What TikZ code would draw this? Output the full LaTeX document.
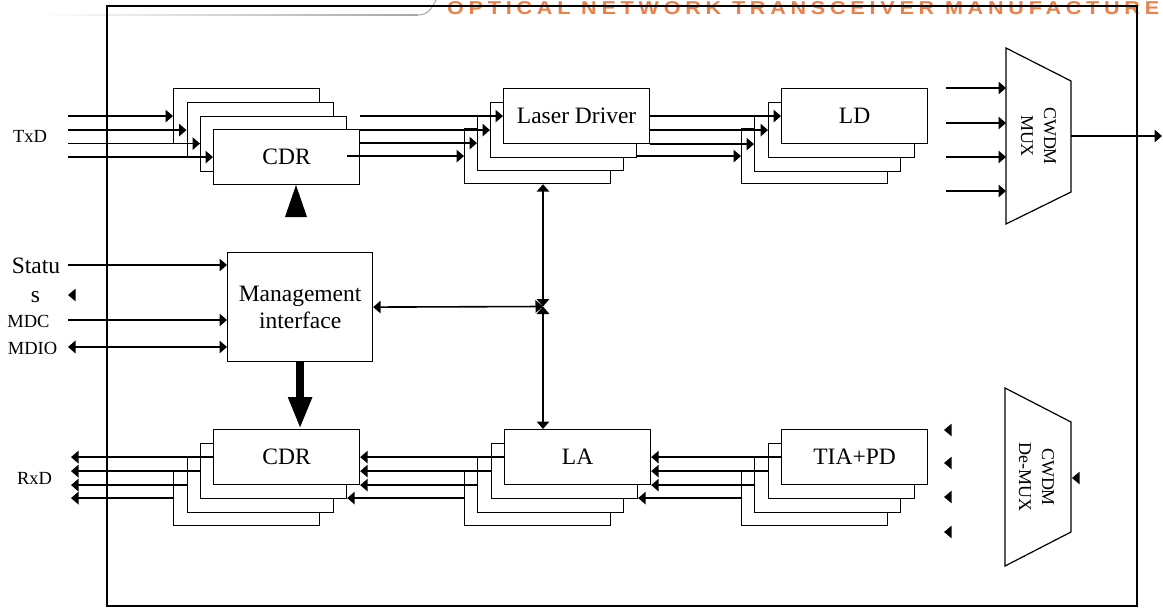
\documentclass[tikz,border=0pt]{standalone}
\usepackage{graphicx}
\usepackage{fontspec}
\setmainfont{Liberation Serif}
\newfontfamily\wmfont[LetterSpace=22]{Liberation Sans}
\usetikzlibrary{arrows.meta}
\definecolor{wmorange}{RGB}{236,128,72}
\tikzset{
  blk/.style={draw, fill=white, line width=1.2pt, minimum width=146pt, minimum height=55pt,
              inner sep=0pt, anchor=north west, font=\fontsize{23.5}{24}\selectfont},
  sig/.style={line width=1.6pt, -{Triangle[length=7.5pt,width=12.5pt]}},
  dsig/.style={line width=1.6pt, {Triangle[length=7.5pt,width=12.5pt]}-{Triangle[length=7.5pt,width=12.5pt]}},
  lbl/.style={anchor=base, inner sep=0pt, font=\fontsize{18.5}{20}\selectfont},
  biglbl/.style={anchor=base, inner sep=0pt, font=\fontsize{23.5}{24}\selectfont},
  muxtxt/.style={rotate=-90, align=center, inner sep=0pt, font=\fontsize{18}{23}\selectfont},
  muxshape/.style={draw, line width=1.2pt}
}
\begin{document}
\begin{tikzpicture}[x=1pt,y=-1pt]
\useasboundingbox (0,0) rectangle (1163,608);
% watermark
\node[anchor=base west, inner sep=0pt, text=wmorange] (wm) at (447,14.5)
  {\resizebox{712pt}{13pt}{\wmfont\bfseries OPTICAL NETWORK TRANSCEIVER MANUFACTURE}};
\shade[left color=white, right color=gray!70] (40,14.4) rectangle (418,15.6);
\draw[gray!70, line width=1pt] (418,15) .. controls (428,15) and (432,8) .. (436,0);
% frame
\draw[line width=1.5pt] (107,6) rectangle (1137,606);

% ---------- TX ----------
\node[blk] (tc1) at (173,88) {};
\node[blk] (tc2) at (186.5,102) {};
\node[blk] (tc3) at (200,115.5) {};
\node[blk] (tc4) at (213,129) {CDR};

\node[blk] (ld4) at (464,128) {};
\node[blk] (ld3) at (477,115) {};
\node[blk] (ld2) at (490,102) {};
\node[blk] (ld1) at (503,88) {Laser Driver};

\node[blk] (lo4) at (741,128) {};
\node[blk] (lo3) at (754,116) {};
\node[blk] (lo2) at (768,102) {};
\node[blk] (lo1) at (781,88) {LD};

\draw[muxshape] (1006,48) -- (1071,81) -- (1071,192) -- (1006,224) -- cycle;
\node[muxtxt] (mux) at (1038.5,136) {CWDM\\MUX};

% ---------- RX ----------
\node[blk] (rc4) at (173,470) {};
\node[blk] (rc3) at (187,457) {};
\node[blk] (rc2) at (200,443) {};
\node[blk] (rc1) at (213,429) {CDR};

\node[blk] (la4) at (464,470) {};
\node[blk] (la3) at (477,457) {};
\node[blk] (la2) at (491,443) {};
\node[blk] (la1) at (504,429) {LA};

\node[blk] (ti4) at (741,470) {};
\node[blk] (ti3) at (754,457) {};
\node[blk] (ti2) at (768,443) {};
\node[blk] (ti1) at (781,429) {TIA+PD};

\draw[muxshape] (1005,388) -- (1071,422) -- (1071,532) -- (1005,566) -- cycle;
\node[muxtxt] (demux) at (1036.5,477) {CWDM\\De-MUX};

% ---------- management ----------
\node[draw, line width=1.2pt, minimum width=145pt, minimum height=109pt, inner sep=0pt,
      anchor=north west, align=center, font=\fontsize{23.5}{27}\selectfont] (mg) at (227,252)
      {Management\\interface};

% labels
\node[lbl] (txd) at (30,142) {TxD};
\node[lbl] (rxd) at (34.5,484) {RxD};
\node[biglbl] (stat1) at (36,273) {Statu};
\node[biglbl] (stat2) at (35.5,302) {s};
\node[lbl] (mdcl) at (28.5,327) {MDC};
\node[lbl] (mdiol) at (32.5,354) {MDIO};

% coordinates
\coordinate (Lx) at (68,0);
\coordinate (Rx) at (71,0);
\coordinate (mx) at (1006,0);
\coordinate (mi1) at (946,88);
\coordinate (mi2) at (946,123);
\coordinate (mi3) at (946,157);
\coordinate (mi4) at (946,191);
\coordinate (mo) at (1071,136);
\coordinate (fout) at (1162,136);
\coordinate (st) at (68,265);
\coordinate (mdc) at (68,320);
\coordinate (mdio) at (68,347);
\coordinate (J) at (543,306.5);

% TxD inputs
\draw[sig] (Lx |- tc1.west) -- (tc1.west);
\draw[sig] (Lx |- tc2.west) -- (tc2.west);
\draw[sig] (Lx |- tc3.west) -- (tc3.west);
\draw[sig] (Lx |- tc4.west) -- (tc4.west);
% CDR -> Laser driver
\draw[sig] (tc4.east |- ld1.west) -- (ld1.west);
\draw[sig] (tc4.east |- ld2.west) -- (ld2.west);
\draw[sig] (tc4.east |- ld3.west) -- (ld3.west);
\draw[sig] (tc3.east |- ld4.west) -- (ld4.west);
% Laser driver -> LD
\draw[sig] (ld1.east |- lo1.west) -- (lo1.west);
\draw[sig] (ld1.east |- lo2.west) -- (lo2.west);
\draw[sig] (ld1.east |- lo3.west) -- (lo3.west);
\draw[sig] (ld2.east |- lo4.west) -- (lo4.west);
% MUX
\draw[sig] (mi1) -- (mx |- mi1);
\draw[sig] (mi2) -- (mx |- mi2);
\draw[sig] (mi3) -- (mx |- mi3);
\draw[sig] (mi4) -- (mx |- mi4);
\draw[sig] (mo) -- (fout);

% RX chain
\draw[sig] (rc1.west) -- (Rx |- rc1.west);
\draw[sig] (rc2.west) -- (Rx |- rc2.west);
\draw[sig] (rc3.west) -- (Rx |- rc3.west);
\draw[sig] (rc4.west) -- (Rx |- rc4.west);
\draw[sig] (la1.west) -- (rc1.east |- la1.west);
\draw[sig] (la2.west) -- (rc1.east |- la2.west);
\draw[sig] (la3.west) -- (rc1.east |- la3.west);
\draw[sig] (la4.west) -- (rc2.east |- la4.west);
\draw[sig] (ti1.west) -- (la1.east |- ti1.west);
\draw[sig] (ti2.west) -- (la1.east |- ti2.west);
\draw[sig] (ti3.west) -- (la1.east |- ti3.west);
\draw[sig] (ti4.west) -- (la2.east |- ti4.west);

% lone arrowheads
\fill (944,430) -- ++(7.5,-6.25) -- ++(0,12.5) -- cycle;
\fill (944,463) -- ++(7.5,-6.25) -- ++(0,12.5) -- cycle;
\fill (944,497) -- ++(7.5,-6.25) -- ++(0,12.5) -- cycle;
\fill (944,532) -- ++(7.5,-6.25) -- ++(0,12.5) -- cycle;
\fill (1072,478) -- ++(7.5,-6.25) -- ++(0,12.5) -- cycle;
\fill (68,295) -- ++(7.5,-6.25) -- ++(0,12.5) -- cycle;

% management connections
\draw[sig] (st) -- (st -| mg.west);
\draw[sig] (mdc) -- (mdc -| mg.west);
\draw[dsig] (mdio) -- (mdio -| mg.west);
\draw[dsig] (mg.east) -- (J);
\draw[dsig] (J) -- (J |- ld4.south);
\draw[dsig] (J) -- (J |- la1.north);
\draw[line width=8pt, -{Triangle[length=32pt,width=22pt]}] (mg.south) -- (mg.south |- rc1.north);
\fill (285,217) -- (307,217) -- (296,185) -- cycle;
\end{tikzpicture}
\end{document}
